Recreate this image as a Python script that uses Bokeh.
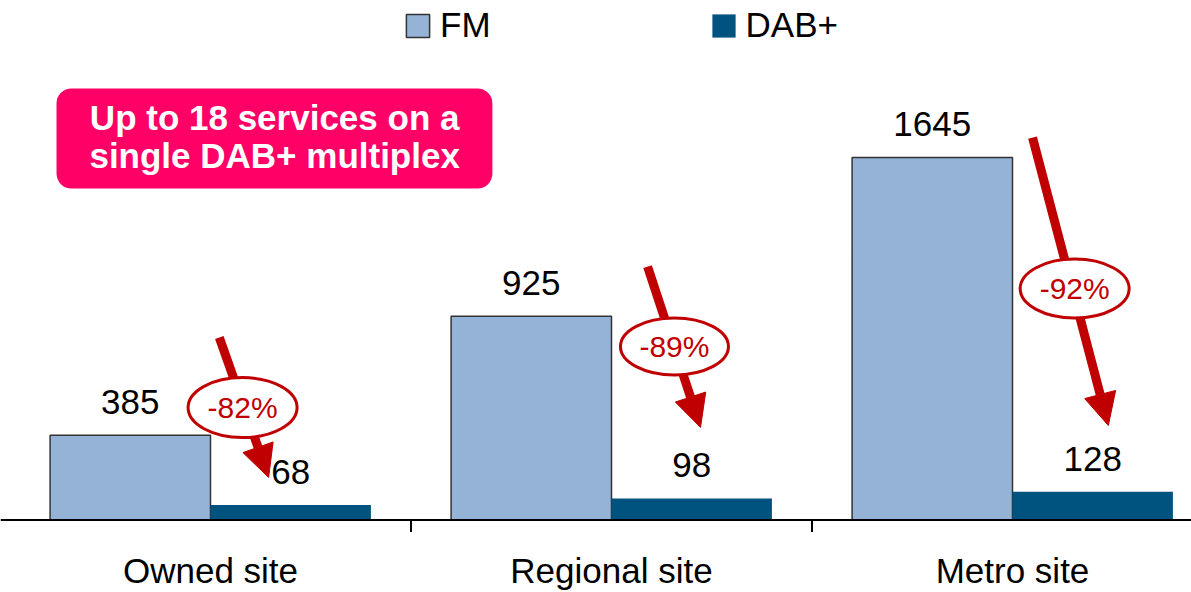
from bokeh.plotting import figure
from bokeh.models import (Range1d, ColumnDataSource, Legend, LegendItem,
                          BoxAnnotation, Arrow, NormalHead, Span)
from bokeh.core.properties import value
from bokeh.embed import file_html
from bokeh.resources import INLINE

# ---------------- data ----------------
categories = ["Owned site", "Regional site", "Metro site"]
fm = [385, 925, 1645]
dab = [68, 98, 128]
changes = ["-82%", "-89%", "-92%"]
callout_lines = ["Up to 18 services on a", "single DAB+ multiplex"]

# ---------------- annotation layout (data units) ----------------
ell_x = [0.080, 1.157, 2.155]
ell_y = [510, 787, 1050]
ell_w = [109, 108, 109]      # screen px
ell_h = [60, 57, 59]
arr_x0 = [0.022, 1.090, 2.050]
arr_y0 = [828, 1150, 1735]
arr_x1 = [0.145, 1.222, 2.239]
arr_y1 = [193, 420, 429]

FONT = "Liberation Sans"
FM_COLOR = "#95B3D7"
DAB_COLOR = "#00537F"
RED = "#C00000"
PINK = "#FF0066"

W, H = 1191, 592
PX_PER_UNIT_Y = 0.2204
PX_PER_CAT = 401.0
AXIS_CANVAS_Y = 519.5
X0 = -210 / PX_PER_CAT

p = figure(width=W, height=H, output_backend="svg", toolbar_location=None,
           x_axis_type=None, y_axis_type=None,
           x_range=Range1d(X0, X0 + W / PX_PER_CAT),
           y_range=Range1d(-(H - AXIS_CANVAS_Y) / PX_PER_UNIT_Y, AXIS_CANVAS_Y / PX_PER_UNIT_Y),
           min_border_left=0, min_border_right=0, min_border_top=0, min_border_bottom=0)
p.outline_line_color = None
p.grid.visible = False
p.background_fill_color = "white"

idx = list(range(len(categories)))
x_fm = [i - 0.2 for i in idx]
x_dab = [i + 0.2 for i in idx]

src_fm = ColumnDataSource(dict(x=x_fm, top=fm, label=[str(v) for v in fm]))
src_dab = ColumnDataSource(dict(x=x_dab, top=dab, label=[str(v) for v in dab]))

r_fm = p.vbar(x="x", top="top", bottom=0, width=0.4, source=src_fm,
              fill_color=FM_COLOR, line_color="#333333", line_width=1.5)
r_dab = p.vbar(x="x", top="top", bottom=0, width=0.4, source=src_dab,
               fill_color=DAB_COLOR, line_color=None)

for s in (src_fm, src_dab):
    p.text(x="x", y="top", text="label", source=s, y_offset=-33,
           text_align="center", text_baseline="middle",
           text_font=value(FONT), text_font_size="35px", text_color="black")

# axis baseline, separator ticks, category labels
p.add_layout(Span(location=0, dimension="width", line_color="black", line_width=2))
sep_x = [i + 0.5 for i in idx[:-1]]
p.segment(x0=sep_x, y0=[0] * len(sep_x), x1=sep_x,
          y1=[-12 / PX_PER_UNIT_Y] * len(sep_x), line_color="black", line_width=2)
p.text(x=idx, y=[0] * len(idx), text=categories, y_offset=50,
       text_align="center", text_baseline="middle",
       text_font=value(FONT), text_font_size="35px", text_color="black")

# call-out box
box = BoxAnnotation(left=-0.384, right=0.703, top=1958, bottom=1504,
                    fill_color=PINK, fill_alpha=1.0, line_color=None,
                    border_radius=15, level="underlay")
p.add_layout(box)
p.text(x=[0.16, 0.16], y=[1824, 1654], text=callout_lines,
       text_align="center", text_baseline="middle",
       text_font=value(FONT), text_font_size="35px", text_font_style="bold",
       text_color="white")

# arrows
for a, b, c, d in zip(arr_x0, arr_y0, arr_x1, arr_y1):
    p.add_layout(Arrow(x_start=a, y_start=b, x_end=c, y_end=d,
                       line_color=RED, line_width=9,
                       end=NormalHead(size=32, fill_color=RED, line_color=RED, line_width=1)))

# ellipses with percentage change
er = p.ellipse(x=ell_x, y=ell_y, width=ell_w, height=ell_h,
               width_units="screen", height_units="screen",
               fill_color="white", line_color=RED, line_width=3)
er.level = "overlay"
tr = p.text(x=ell_x, y=ell_y, text=changes, text_align="center", text_baseline="middle",
            text_font=value(FONT), text_font_size="30px", text_color=RED)
tr.level = "overlay"

legend = Legend(items=[LegendItem(label="FM", renderers=[r_fm]),
                       LegendItem(label="DAB+", renderers=[r_dab])],
                orientation="horizontal", location=(403, H - 45),
                glyph_width=29, glyph_height=29, label_standoff=8, spacing=218,
                padding=0, margin=0, border_line_color=None, background_fill_alpha=0,
                label_text_font=FONT, label_text_font_size="35px", label_text_color="black")
p.add_layout(legend)

open("out.html", "w").write(file_html(p, INLINE))
